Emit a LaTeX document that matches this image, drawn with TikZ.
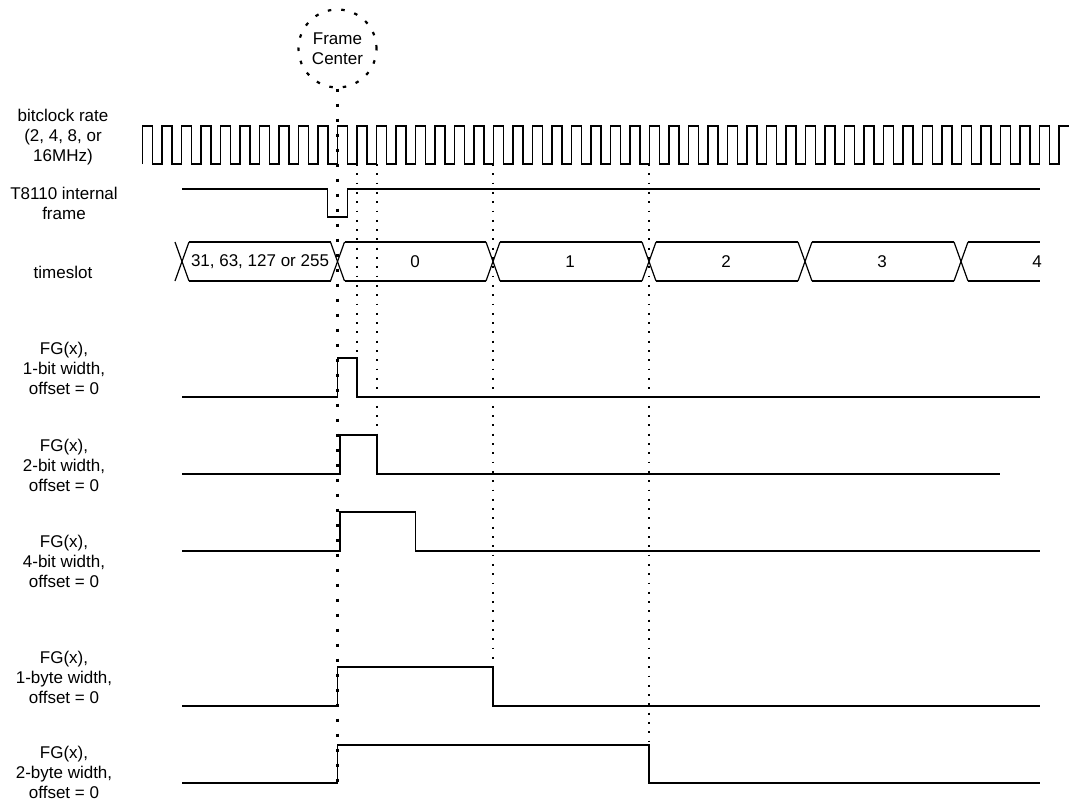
\documentclass[tikz,border=0pt]{standalone}
\usepackage{fontspec}
\setmainfont{Liberation Sans}
\begin{document}
\begin{tikzpicture}[x=1pt,y=-1pt,
  font=\fontsize{17}{20}\selectfont,
  wave/.style={line width=1.2pt, line join=miter},
  lbl/.style={align=center, inner sep=0pt},
  thindot/.style={line width=1.1pt, dash pattern=on 1.8pt off 7.5pt},
  thickdot/.style={line width=2.4pt, dash pattern=on 3.5pt off 11.5pt},
  fcircle/.style={circle, draw, line width=2.2pt, dash pattern=on 3.5pt off 10pt,
    minimum size=78pt, inner sep=0pt, align=center}]
\useasboundingbox (0,0) rectangle (1069,800);

% frame center marker
\node[fcircle] (fc) at (337.5,48.5) {Frame\\Center};

% row labels
\node[lbl] (lclk) at (63,137) {bitclock rate\\(2, 4, 8, or\\16MHz)};
\node[lbl] (lfrm) at (64,203) {T8110 internal\\frame};
\node[lbl] (lts)  at (63,272) {timeslot};
\node[lbl] (lfg1) at (64,368) {FG(x),\\1-bit width,\\offset = 0};
\node[lbl] (lfg2) at (64,465) {FG(x),\\2-bit width,\\offset = 0};
\node[lbl] (lfg3) at (64,561) {FG(x),\\4-bit width,\\offset = 0};
\node[lbl] (lfg4) at (64,677) {FG(x),\\1-byte width,\\offset = 0};
\node[lbl] (lfg5) at (64,772) {FG(x),\\2-byte width,\\offset = 0};

% dotted reference lines
\coordinate (d1a) at (357,164);  \coordinate (d1b) at (357,358);
\coordinate (d2a) at (377,164);  \coordinate (d2b) at (377,435);
\coordinate (d3a) at (493,164);  \coordinate (d3b) at (493,667);
\coordinate (d4a) at (649,164);  \coordinate (d4b) at (649,745);
\draw[thindot] (d1a) -- (d1b);
\draw[thindot] (d2a) -- (d2b);
\draw[thindot] (d3a) -- (d3b);
\draw[thindot] (d4a) -- (d4b);
\coordinate (fcend) at (337.5,783);
\draw[thickdot] (fc.south) -- (fcend);

% bit clock
\draw[wave] (142.5,164) foreach \k in {0,...,46}{ -- ++(0,-38) -- ++(10,0) -- ++(0,38) -- ++(9.5,0) } -- ++(0,-38) -- (1069,126);

% internal frame
\draw[wave] (182,189) -- (327.75,189) -- (327.75,217) -- (347.25,217) -- (347.25,189) -- (1040,189);

% timeslot bus
\foreach \c in {182,337.5,493,649,805,961}{
  \draw[wave] (\c-7,242) -- (\c+7,281);
  \draw[wave] (\c-7,281) -- (\c+7,242);
}
\foreach \a/\b in {189/330.5,344.5/486,500/642,656/798,812/954,968/1040}{
  \draw[wave] (\a,242) -- (\b,242);
  \draw[wave] (\a,281) -- (\b,281);
}
\node[lbl] (ts31) at (260,262) {31, 63, 127 or 255};
\node[lbl] (ts0) at (415,262) {0};
\node[lbl] (ts1) at (570,262) {1};
\node[lbl] (ts2) at (726,262) {2};
\node[lbl] (ts3) at (882,262) {3};
\node[lbl] (ts4) at (1037,262) {4};

% FG waveforms
\draw[wave] (182,397) -- (337.5,397) -- (337.5,358) -- (357,358) -- (357,397) -- (1040,397);
\draw[wave] (182,474) -- (340,474) -- (340,435) -- (377,435) -- (377,474) -- (1000,474);
\draw[wave] (182,551) -- (340,551) -- (340,512) -- (415.5,512) -- (415.5,551) -- (1040,551);
\draw[wave] (182,706) -- (337.5,706) -- (337.5,667) -- (493,667) -- (493,706) -- (1040,706);
\draw[wave] (182,783) -- (337.5,783) -- (337.5,745) -- (649,745) -- (649,783) -- (1040,783);
\end{tikzpicture}
\end{document}
